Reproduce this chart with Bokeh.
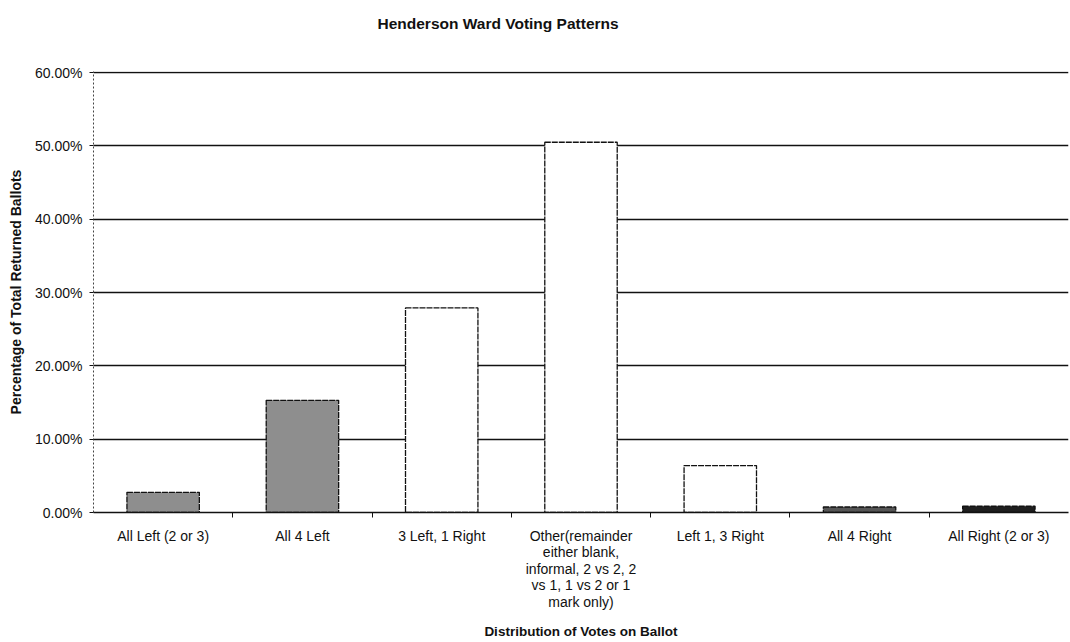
from bokeh.plotting import figure
from bokeh.models import FixedTicker, PrintfTickFormatter, Title
from bokeh.embed import file_html
from bokeh.resources import INLINE

# Share of total returned ballots (percent) by how the votes were split
categories = [
    "All Left (2 or 3)",
    "All 4 Left",
    "3 Left, 1 Right",
    "Other(remainder\neither blank,\ninformal, 2 vs 2, 2\nvs 1, 1 vs 2 or 1\nmark only)",
    "Left 1, 3 Right",
    "All 4 Right",
    "All Right (2 or 3)",
]
shares = [2.75, 15.3, 27.9, 50.5, 6.4, 0.75, 0.85]
y_ticks = [0, 10, 20, 30, 40, 50, 60]
chart_title = "Henderson Ward Voting Patterns"

FONT = "Liberation Sans"
bar_fills = ["#8e8e8e", "#8e8e8e", "white", "white", "white", "#555555", "#1e1e1e"]

positions = list(range(len(categories)))

p = figure(
    width=1070, height=642,
    x_range=(-0.5, len(categories) - 0.5), y_range=(0, 60.15),
    output_backend="svg", toolbar_location=None,
    min_border_left=93, min_border_right=2,
    min_border_top=71, min_border_bottom=130,
)

p.vbar(x=positions, top=shares, width=0.52, bottom=0,
       fill_color=bar_fills, line_color="#111111", line_width=1.3,
       line_dash="6 1")

# blank band between the frame and the title (nearest the frame)
p.add_layout(Title(text=" ", text_font_size="8px", standoff=14), "above")
# chart title, left of the frame centre
p.add_layout(Title(
    text=chart_title, align="left", offset=284, vertical_align="top",
    standoff=26, text_font=FONT, text_font_size="15.5px",
    text_font_style="bold", text_color="#111111",
), "above")

p.outline_line_color = None
p.background_fill_color = "white"
p.border_fill_color = "white"

# horizontal gridlines only
p.xgrid.grid_line_color = None
p.ygrid.grid_line_color = "#111111"
p.ygrid.grid_line_width = 1.3
p.ygrid.ticker = FixedTicker(ticks=y_ticks)

# y axis
p.yaxis.ticker = FixedTicker(ticks=y_ticks)
p.yaxis.formatter = PrintfTickFormatter(format="%.2f%%")
p.yaxis.axis_line_color = "#444444"
p.yaxis.axis_line_dash = "2 2"
p.yaxis.major_tick_in = 0
p.yaxis.major_tick_out = 4
p.yaxis.major_tick_line_color = "#111111"
p.yaxis.minor_tick_line_color = None
p.yaxis.major_label_text_font = FONT
p.yaxis.major_label_text_font_size = "14px"
p.yaxis.major_label_text_color = "#111111"
p.yaxis.major_label_standoff = 7
p.yaxis.axis_label = "Percentage of Total Returned Ballots"
p.yaxis.axis_label_text_font = FONT
p.yaxis.axis_label_text_font_size = "14px"
p.yaxis.axis_label_text_font_style = "bold"
p.yaxis.axis_label_text_color = "#111111"
p.yaxis.axis_label_standoff = 8

# x axis: labels at bar centres, tick marks between categories
p.xaxis.ticker = FixedTicker(ticks=positions,
                             minor_ticks=[i + 0.5 for i in positions[:-1]])
p.xaxis.major_label_overrides = {i: c for i, c in zip(positions, categories)}
p.xaxis.axis_line_color = "#111111"
p.xaxis.axis_line_width = 1.3
p.xaxis.major_tick_in = 0
p.xaxis.major_tick_out = 0
p.xaxis.minor_tick_in = 0
p.xaxis.minor_tick_out = 5
p.xaxis.minor_tick_line_color = "#111111"
p.xaxis.major_label_text_font = FONT
p.xaxis.major_label_text_font_size = "14px"
p.xaxis.major_label_text_color = "#111111"
p.xaxis.major_label_text_line_height = 1.04
p.xaxis.major_label_standoff = 10
p.xaxis.axis_label = "Distribution of Votes on Ballot"
p.xaxis.axis_label_text_font = FONT
p.xaxis.axis_label_text_font_size = "13.5px"
p.xaxis.axis_label_text_font_style = "bold"
p.xaxis.axis_label_text_color = "#111111"
p.xaxis.axis_label_standoff = 11

open("out.html", "w").write(file_html(p, INLINE))
